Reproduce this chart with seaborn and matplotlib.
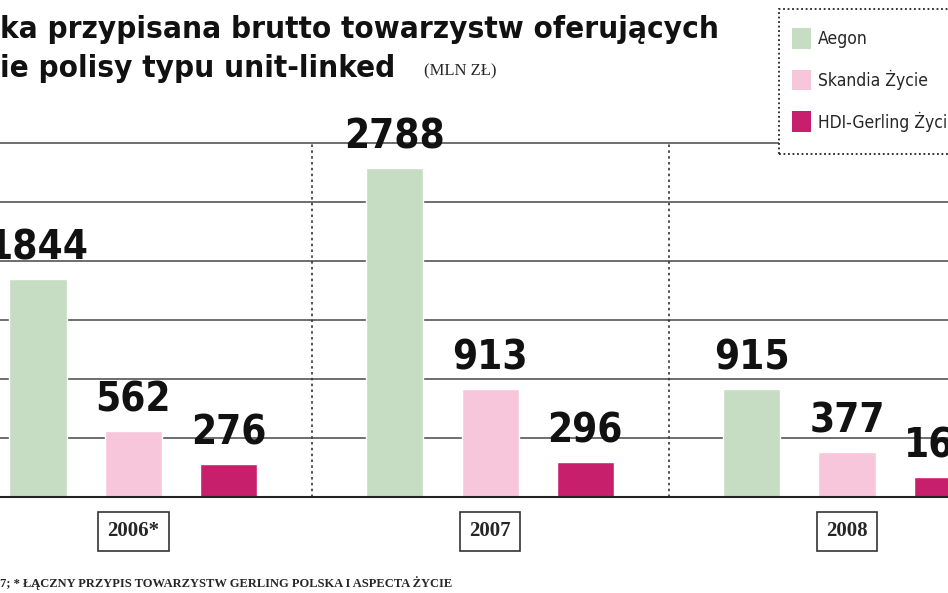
import numpy as np
import pandas as pd
import seaborn as sns
import matplotlib.pyplot as plt
from matplotlib.patches import Rectangle

years = ["2006*", "2007", "2008"]
companies = ["Aegon", "Skandia Życie", "HDI-Gerling Życie"]
aegon = [1844, 2788, 915]
skandia = [562, 913, 377]
hdi = [276, 296, 165]
colors = ["#c6dcc3", "#f8c6da", "#c81f6c"]

df = pd.DataFrame({
    "year": years * 3,
    "company": sum([[c] * 3 for c in companies], []),
    "value": aegon + skandia + hdi,
})

sns.set_style("white")
plt.rcParams["font.family"] = ["DejaVu Sans"]
plt.rcParams["font.stretch"] = "condensed"

fig = plt.figure(figsize=(9.48, 5.93), dpi=100)
ax = fig.add_axes([0, 0, 1, 1])
sns.barplot(data=df, x="year", y="value", hue="company", order=years,
            hue_order=companies, palette=colors, gap=0.4, width=0.8,
            saturation=1, legend=False, ax=ax, zorder=3)
ax.set_xlim(-0.373, 2.283)
ax.set_ylim(-814, 4212)
ax.axis("off")

# gridlines and baseline
for g in range(500, 3001, 500):
    ax.axhline(g, color="#555555", lw=1.2, zorder=1)
ax.axhline(0, color="#222222", lw=1.5, zorder=4)
for xs in [0.5, 1.5]:
    ax.plot([xs, xs], [0, 3000], color="#333333", lw=1.2, ls=(0, (1.5, 2)), zorder=2)

# value labels
for p in ax.patches:
    h = p.get_height()
    if np.isnan(h):
        continue
    ax.text(p.get_x() + p.get_width() / 2, h + 90, f"{int(h)}", ha="center",
            va="bottom", fontsize=29, fontweight="bold", color="#111111", zorder=5)

# year boxes
for i, y in enumerate(years):
    ax.text(i, -290, y, ha="center", va="center", fontsize=15, fontweight="bold",
            family="Liberation Serif",
            bbox=dict(boxstyle="square,pad=0.45", fc="white", ec="#333333", lw=1.2))

# title
fig.text(0.0, 0.95, "ka przypisana brutto towarzystw oferujących", fontsize=22.5,
         fontweight="bold", ha="left", va="center", color="#111111")
fig.text(0.0, 0.885, "ie polisy typu unit-linked", fontsize=22.5,
         fontweight="bold", ha="left", va="center", color="#111111")
fig.text(0.447, 0.88, "(MLN ZŁ)", fontsize=12, family="Liberation Serif",
         ha="left", va="center")

# legend box
fig.patches.append(Rectangle((0.822, 0.74), 0.2, 0.245, transform=fig.transFigure,
                             fc="white", ec="#222222", lw=1.3, ls=(0, (1, 1.5)), zorder=6))
for k, (c, col) in enumerate(zip(companies, colors)):
    yy = 0.935 - k * 0.07
    fig.patches.append(Rectangle((0.835, yy - 0.017), 0.02, 0.034, transform=fig.transFigure,
                                 fc=col, ec="none", zorder=7))
    fig.text(0.863, yy, c, fontsize=12.5, ha="left", va="center", zorder=8)

# footnote
fig.text(0.0, 0.017, "7; * ŁĄCZNY PRZYPIS TOWARZYSTW GERLING POLSKA I ASPECTA ŻYCIE",
         fontsize=9, family="Liberation Serif", fontweight="bold", ha="left", va="center")

fig.savefig("out.png", dpi=100)
